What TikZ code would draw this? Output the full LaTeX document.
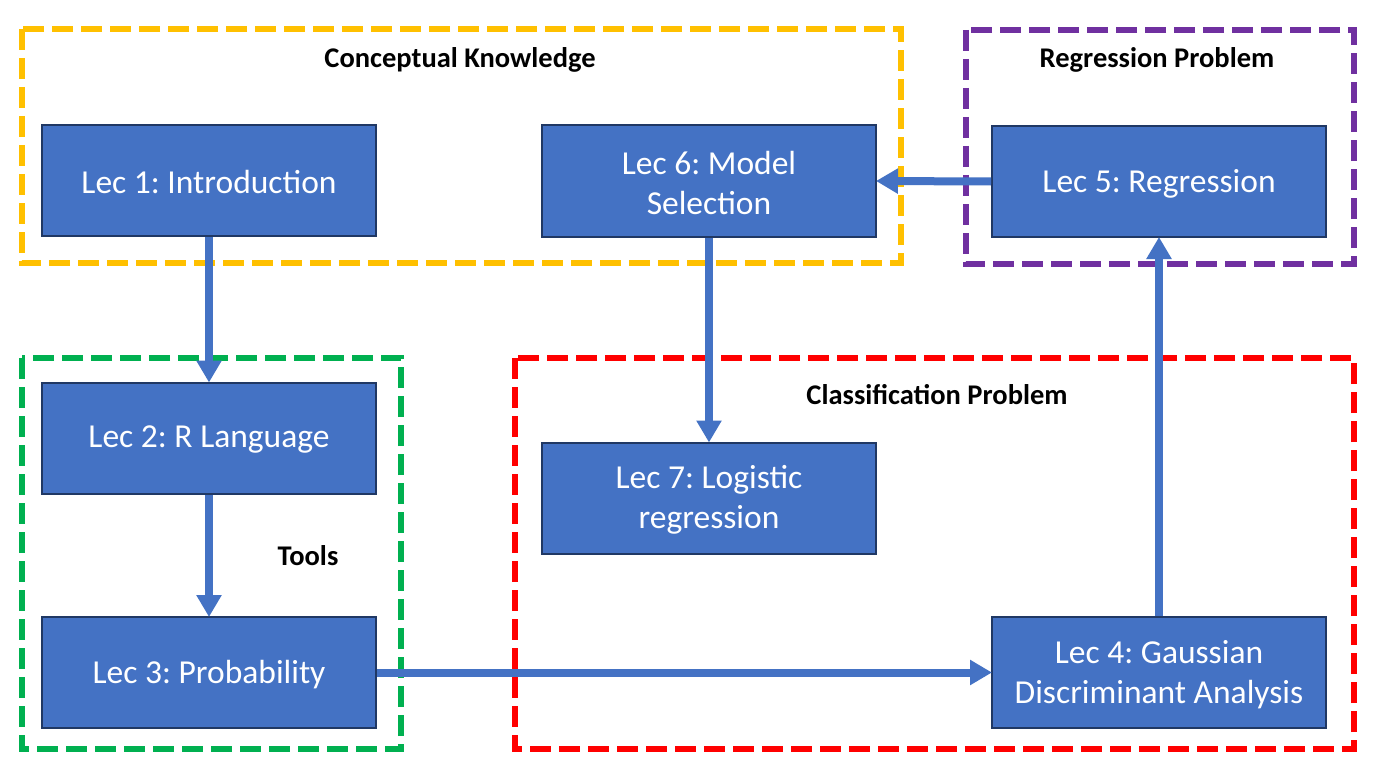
\documentclass[tikz,border=0pt]{standalone}
\usepackage{fontspec}
\setmainfont{Carlito}
\usetikzlibrary{arrows.meta}
\definecolor{boxblue}{HTML}{4472C4}
\definecolor{boxedge}{HTML}{203864}
\definecolor{fyellow}{HTML}{FFC000}
\definecolor{fpurple}{HTML}{7030A0}
\definecolor{fgreen}{HTML}{00B050}
\definecolor{fred}{HTML}{FF0000}
\frenchspacing
\tikzset{
  lecbox/.style={draw=boxedge, line width=2pt, fill=boxblue,
    minimum width=334pt, minimum height=111pt, inner sep=0pt},
  lectext/.style={inner sep=0pt, text=white, align=center,
    font=\fontsize{33.5}{40}\selectfont},
  frame/.style={line width=5.5pt, dash pattern=on 21pt off 8pt},
  grouplabel/.style={font=\bfseries\fontsize{28.5}{32}\selectfont, inner sep=0pt},
  flow/.style={draw=boxblue, line width=8pt, -{Triangle[length=22pt,width=24pt]}, shorten >=-1pt}
}
\begin{document}
\begin{tikzpicture}[x=1pt,y=-1pt]
\useasboundingbox[fill=white] (0,0) rectangle (1379,781);
% frames
\draw[frame, fyellow] (22,29) rectangle (901,263);
\draw[frame, fpurple] (966,30) rectangle (1354,264);
\draw[frame, fgreen] (22,358) rectangle (401,749);
\draw[frame, fred] (515,358) rectangle (1354,749);
% group labels
\node[grouplabel] (gk) at (460,60) {Conceptual Knowledge};
\node[grouplabel] (gr) at (1157,60) {Regression Problem};
\node[grouplabel] (gc) at (937,394.5) {Classification Problem};
\node[grouplabel] (gt) at (308,555.5) {Tools};
% boxes
\node[lecbox] (l1) at (209,180.5) {};
\node[lecbox] (l6) at (709,181) {};
\node[lecbox] (l5) at (1159,181.5) {};
\node[lecbox] (l2) at (209,438) {};
\node[lecbox] (l3) at (209,672.5) {};
\node[lecbox] (l7) at (709,498) {};
\node[lecbox] (l4) at (1159,672.5) {};
\node[lectext] (t1) at ([yshift=-2pt]l1.center) {Lec 1: Introduction};
\node[lectext] (t6) at ([yshift=-2pt]l6.center) {Lec 6: Model\\Selection};
\node[lectext] (t5) at ([yshift=-2pt]l5.center) {Lec 5: Regression};
\node[lectext] (t2) at ([yshift=-2pt]l2.center) {Lec 2: R Language};
\node[lectext] (t3) at ([yshift=-2pt]l3.center) {Lec 3: Probability};
\node[lectext] (t7) at ([yshift=-2pt]l7.center) {Lec 7: Logistic\\regression};
\node[lectext] (t4) at ([yshift=-2pt]l4.center) {Lec 4: Gaussian\\Discriminant Analysis};
% connectors
\draw[flow] (l1.south) -- (l2.north);
\draw[flow] (l2.south) -- (l3.north);
\draw[flow] (l3.east) -- (l4.west);
\draw[flow] (l4.north) -- (l5.south);
\draw[flow] (l5.west) -- (l6.east);
\draw[flow] (l6.south) -- (l7.north);
\end{tikzpicture}
\end{document}
